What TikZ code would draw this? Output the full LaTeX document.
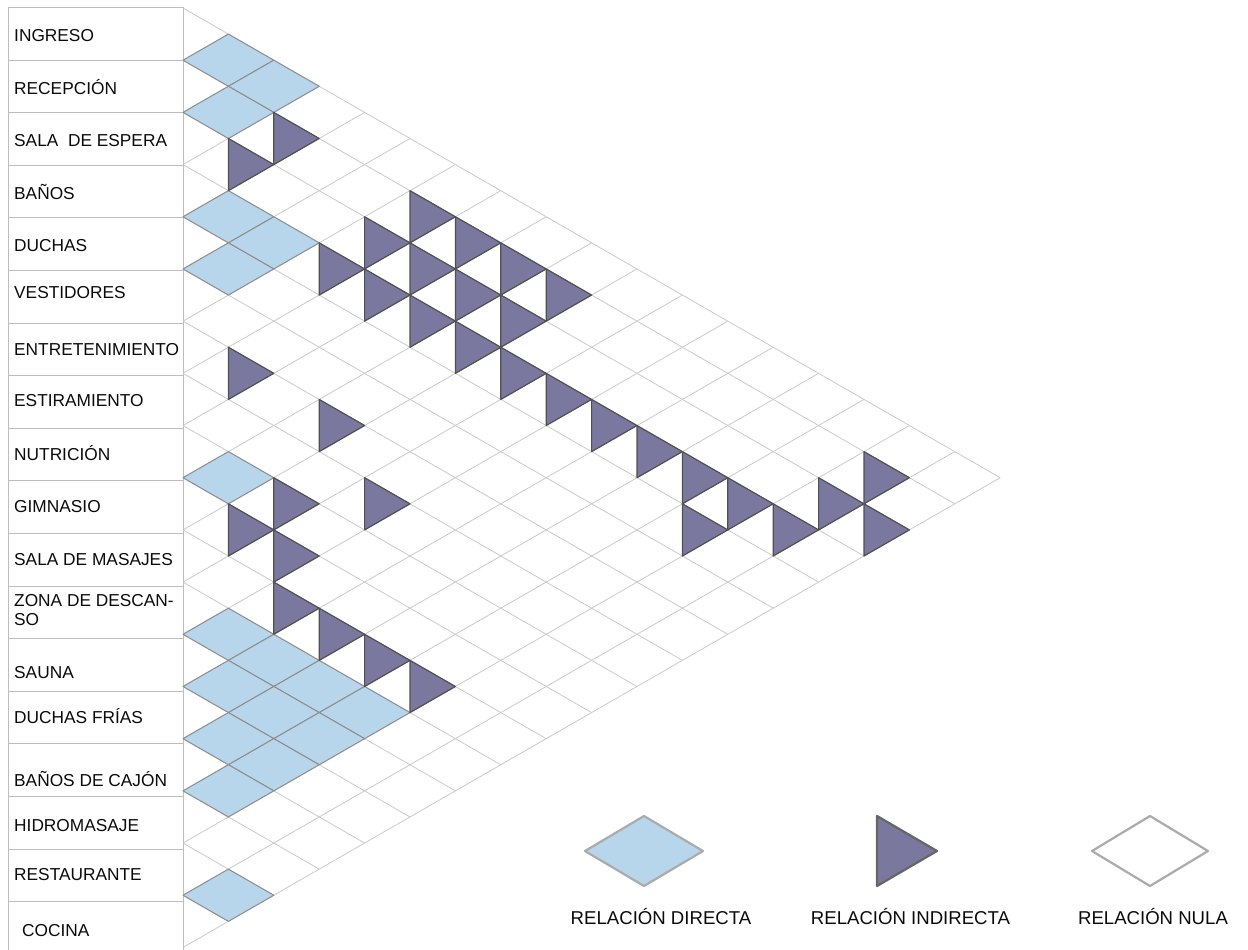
\documentclass[tikz,border=0pt]{standalone}
\usepackage{fontspec}
\setmainfont{Liberation Sans}
\usepackage{xcolor}
\usepackage{tikz}
\definecolor{gridgray}{HTML}{C9C9C9}
\definecolor{boxgray}{HTML}{BDBDBD}
\definecolor{directblue}{HTML}{B7D6EC}
\definecolor{directedge}{HTML}{8E8E8E}
\definecolor{indirectfill}{HTML}{7B789F}
\definecolor{indirectedge}{HTML}{505050}
\definecolor{legendgray}{HTML}{ABABAB}
\definecolor{legenddark}{HTML}{666666}
\definecolor{textdark}{HTML}{0A0A0A}

\begin{document}
\begin{tikzpicture}[x=1pt,y=-1pt,
  gridline/.style={draw=gridgray,line width=0.8pt},
  boxline/.style={draw=boxgray,line width=1pt},
  direct/.style={fill=directblue,draw=directedge,line width=1pt,line join=round},
  indirect/.style={fill=indirectfill,draw=indirectedge,line width=1.2pt,line join=round},
  legenddirect/.style={fill=directblue,draw=legendgray,line width=2.2pt,line join=round},
  legendindirect/.style={fill=indirectfill,draw=legenddark,line width=2.2pt,line join=round},
  legendnull/.style={fill=white,draw=legendgray,line width=2.2pt,line join=round},
  rowlabel/.style={anchor=base west,inner sep=0pt,text=textdark,font=\fontsize{17.3}{19}\selectfont},
  legendlabel/.style={anchor=base,inner sep=0pt,text=textdark,font=\fontsize{18.6}{21}\selectfont}]
  \useasboundingbox (0,0) rectangle (1248,950);
  \def\cellw{45.4}
  \def\cellh{52.19}
  \def\gx{183}
  \def\gy{8}

  % label column
  \draw[boxline] (8,950) -- (8,7.5) -- (\gx,7.5);
  \foreach \k in {1,...,17}
    \draw[boxline] (8,{7.5+52.6*\k}) -- (\gx,{7.5+52.6*\k});
  \draw[boxline] (\gx,7.5) -- (\gx,950);

  % triangular grid
  \foreach \k in {0,...,18} {
    \draw[gridline] (\gx,{\gy+\k*\cellh}) -- ++({(18-\k)*\cellw},{(18-\k)*\cellh/2});
    \draw[gridline] (\gx,{\gy+\k*\cellh}) -- ++({\k*\cellw},{-\k*\cellh/2});
  }

  % direct relations
  \foreach \i/\j in {0/1,0/2,1/2,3/4,3/5,4/5,8/9,11/12,11/13,12/13,11/14,12/14,11/15,13/14,12/15,13/15,14/15,16/17}
    \draw[direct] ({\gx+(\j-\i-1)*\cellw},{\gy+(\i+\j+1)*\cellh/2}) -- ++(\cellw,-\cellh/2)
      -- ++(\cellw,\cellh/2) -- ++(-\cellw,\cellh/2) -- cycle;

  % indirect relations
  \foreach \i/\j in {1/3,2/3,1/6,2/6,1/7,3/6,2/7,1/8,3/7,2/8,1/9,3/8,2/9,3/9,3/10,3/11,3/12,3/13,3/14,3/15,4/15,3/16,2/16,1/16,2/17,6/7,6/9,8/10,7/11,9/10,9/11,10/12,10/13,10/14,10/15}
    \draw[indirect] ({\gx+(\j-\i)*\cellw},{\gy+(\i+\j)*\cellh/2}) -- ++(\cellw,\cellh/2)
      -- ++(-\cellw,\cellh/2) -- cycle;

  % row labels
  \foreach \name/\x/\y/\lab in {row0/14/41.7/INGRESO, row1/14/94.3/RECEPCIÓN,
      row2/14/146.7/SALA~~DE ESPERA, row3/14/199.3/BAÑOS, row4/14/251.7/DUCHAS,
      row5/14/298.3/VESTIDORES, row6/14/355/ENTRETENIMIENTO, row7/14/406.7/ESTIRAMIENTO,
      row8/14/460/NUTRICIÓN, row9/14/512.3/GIMNASIO, row10/14/565/SALA DE MASAJES,
      row12/14/678.3/SAUNA, row13/14/723.3/DUCHAS FRÍAS, row14/14/786.7/BAÑOS DE CAJÓN,
      row15/14/831.7/HIDROMASAJE, row16/14/880/RESTAURANTE, row17/22/936.7/COCINA}
    \node[rowlabel] (\name) at (\x,\y) {\lab};
  \node[rowlabel,align=left] (row11) at (14,625.5) {ZONA DE DESCAN-\\SO};

  % legend
  \draw[legenddirect] (585,851) -- (644,816) -- (703,851) -- (644,886) -- cycle;
  \draw[legendindirect] (877,816) -- (937,851) -- (877,886) -- cycle;
  \draw[legendnull] (1092,851) -- (1150,816) -- (1208,851) -- (1150,886) -- cycle;
  \node[legendlabel] (lgdirect) at (661,924) {RELACIÓN DIRECTA};
  \node[legendlabel] (lgindirect) at (910.5,924) {RELACIÓN INDIRECTA};
  \node[legendlabel] (lgnull) at (1153,924) {RELACIÓN NULA};
\end{tikzpicture}
\end{document}
